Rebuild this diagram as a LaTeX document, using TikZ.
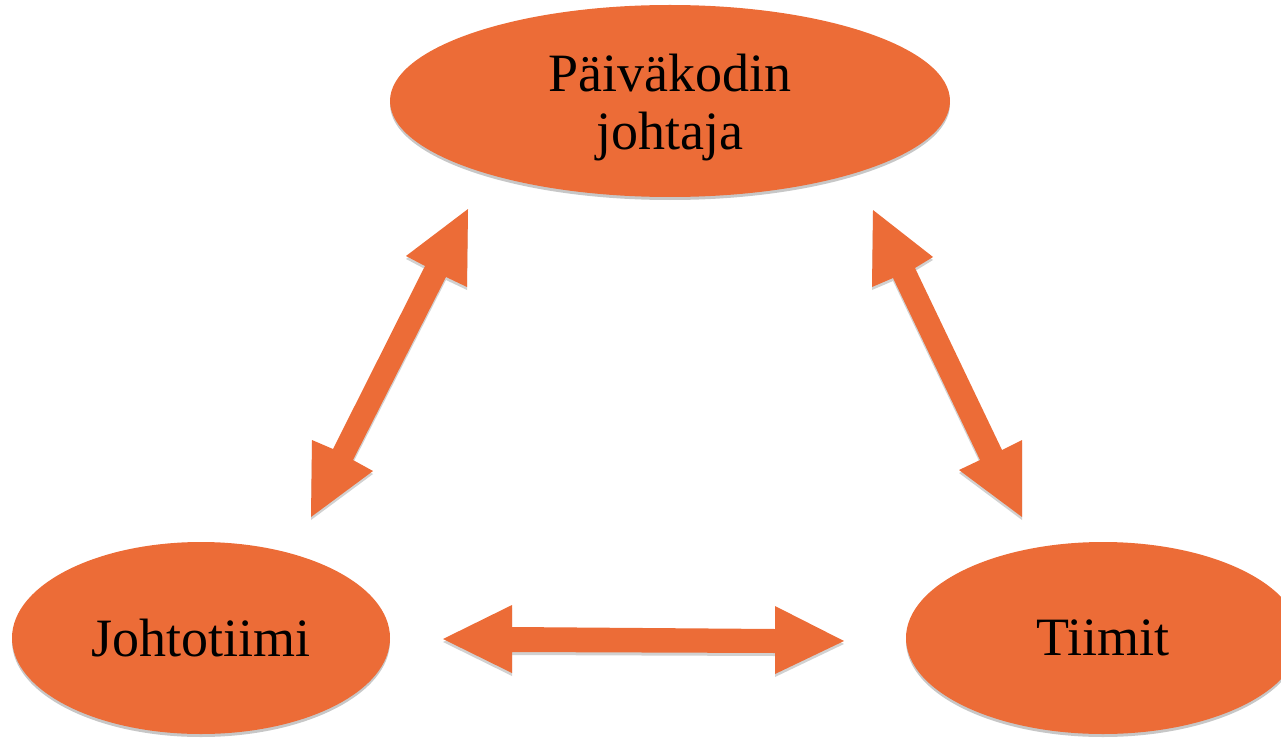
\documentclass[tikz,border=0pt]{standalone}
\usepackage{fontspec}
\setmainfont{Liberation Serif}
\usetikzlibrary{shapes.geometric,shadows}
\definecolor{orng}{RGB}{236,108,55}
\tikzset{
  oval/.style={ellipse, fill=orng, inner sep=0pt, align=center,
    font=\fontsize{54}{58}\selectfont,
    drop shadow={shadow xshift=0pt, shadow yshift=-3pt, opacity=0.22, fill=black}},
  ovaltext/.style={inner sep=0pt, align=center, font=\fontsize{54}{58}\selectfont},
  blockarrow/.style={fill=orng,
    drop shadow={shadow xshift=0pt, shadow yshift=-3pt, opacity=0.18, fill=black}}
}
\begin{document}
\begin{tikzpicture}[x=1pt,y=-1pt]
\useasboundingbox (0,0) rectangle (1281,738);
\clip (0,0) rectangle (1281,738);
\node[oval, minimum width=560pt, minimum height=192pt] (top) at (670,101) {};
\node[ovaltext] (toptext) at (670,108) {Päiväkodin\\johtaja};
\node[oval, minimum width=378pt, minimum height=192pt] (left) at (201,638) {Johtotiimi};
\node[oval, minimum width=394pt, minimum height=192pt] (right) at (1103,638) {Tiimit};
% left diagonal double arrow
\fill[blockarrow] (468,209) -- (467,287) -- (446,277) -- (353,460) -- (373,471)
  -- (311,517) -- (312,440) -- (333,449) -- (425,266) -- (406,256) -- cycle;
% right diagonal double arrow
\fill[blockarrow] (873,210) -- (933,257) -- (915,268) -- (1002,450) -- (1022,440)
  -- (1022,517) -- (959,470) -- (980,460) -- (893,278) -- (872,287) -- cycle;
% horizontal double arrow
\fill[blockarrow] (443,639) -- (512,605) -- (512,627) -- (775,629) -- (775,606)
  -- (844,641) -- (775,674) -- (775,653) -- (512,652) -- (512,673) -- cycle;
\end{tikzpicture}
\end{document}
